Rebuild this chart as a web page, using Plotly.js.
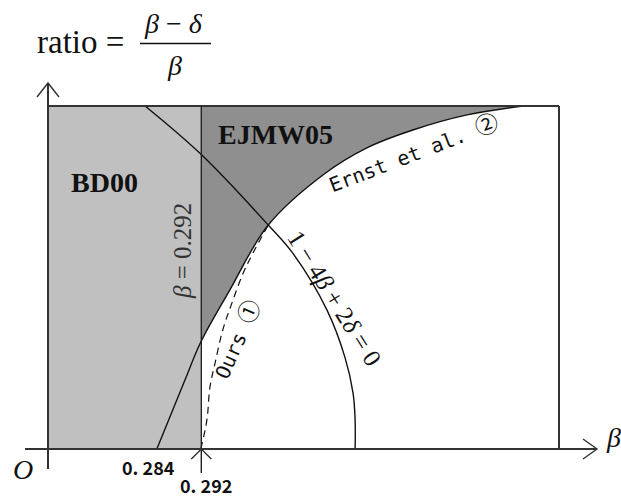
<!DOCTYPE html>
<html>
<head>
<meta charset="utf-8">
<script src="https://cdn.plot.ly/plotly-3.0.1.min.js"></script>
<style>
  html, body { margin: 0; padding: 0; background: #fff; }
  #root { width: 621px; height: 500px; }
</style>
</head>
<body>
<div id="root"></div>
<script>
// schematic units: beta runs 0..1 across the frame, ratio 0..1 up the frame
const bd00Edge = 0.30;              // beta = 0.292 line
const ernstBeta  = [0.213, 0.268, 0.299, 0.356, 0.431, 0.538, 0.624, 0.714, 0.820, 0.930];
const ernstRatio = [0.000, 0.201, 0.312, 0.464, 0.653, 0.799, 0.878, 0.930, 0.974, 1.000];
const oursBeta   = [0.299, 0.311, 0.317, 0.327, 0.342, 0.360, 0.382, 0.401, 0.431];
const oursRatio  = [0.000, 0.085, 0.181, 0.251, 0.347, 0.426, 0.513, 0.571, 0.653];
const arcBeta    = [0.190, 0.301, 0.431, 0.479, 0.546, 0.581, 0.597, 0.601, 0.601];
const arcRatio   = [1.000, 0.857, 0.653, 0.571, 0.405, 0.268, 0.163, 0.085, 0.000];
const tickLabels = ["0. 284", "0. 292"];

// page geometry (pixels) of the frame, used to set the axis ranges
const W = 621, H = 500;
const FX0 = 48, FX1 = 559, FY0 = 449, FY1 = 106;
function u(px) { return (px - FX0) / (FX1 - FX0); }
function v(py) { return (FY0 - py) / (FY0 - FY1); }

const serif = "Liberation Serif, DejaVu Serif, serif";
const mono = "DejaVu Sans Mono, monospace";
const gothic = "Noto Sans CJK JP, DejaVu Sans, sans-serif";
const ink = "#111";

// white area under the Ernst curve to the right of the BD00 edge,
// closed at the top right corner of the frame
var cutB = [], cutR = [];
for (let i = 0; i < ernstBeta.length; i++) {
    if (ernstBeta[i] >= bd00Edge - 0.002) {
        cutB.push(ernstBeta[i]);
        cutR.push(ernstRatio[i]);
    }
}
cutB.push(1);
cutR.push(1);

var traces = [
    {
        x: cutB, y: cutR, mode: "lines", fill: "tozeroy", fillcolor: "#ffffff",
        line: { width: 0, color: "#ffffff", shape: "spline" }, hoverinfo: "skip"
    },
    {
        x: ernstBeta, y: ernstRatio, mode: "lines",
        line: { color: ink, width: 1.4, shape: "spline" }, hoverinfo: "skip"
    },
    {
        x: oursBeta, y: oursRatio, mode: "lines",
        line: { color: ink, width: 1.2, shape: "spline", dash: "7px,5px" }, hoverinfo: "skip"
    },
    {
        x: arcBeta, y: arcRatio, mode: "lines",
        line: { color: ink, width: 1.4, shape: "spline" }, hoverinfo: "skip"
    }
];

// arrow heads, sizes in pixels
const ax = 14, ay = 10;
function sx(p) { return p / (FX1 - FX0); }
function sy(p) { return p / (FY0 - FY1); }
const xEnd = u(597), yEnd = v(83);

var shapes = [
    // BD00 region
    { type: "rect", layer: "below", x0: 0, x1: bd00Edge, y0: 0, y1: 1,
      fillcolor: "#c0c0c0", line: { width: 0 } },
    // EJMW05 region (lower part whitened by the fill trace)
    { type: "rect", layer: "below", x0: bd00Edge, x1: 1, y0: 0, y1: 1,
      fillcolor: "#8f8f8f", line: { width: 0 } },
    // frame top and right
    { type: "line", x0: 0, x1: 1, y0: 1, y1: 1, line: { color: "#333", width: 2 } },
    { type: "line", x0: 1, x1: 1, y0: 0, y1: 1, line: { color: "#333", width: 2 } },
    // beta = 0.292 line
    { type: "line", x0: bd00Edge, x1: bd00Edge, y0: v(473), y1: 1, line: { color: "#222", width: 1.4 } },
    { type: "path", path: "M" + (bd00Edge - sx(10)) + "," + (-sy(10)) + " L" + bd00Edge + ",0 L" + (bd00Edge + sx(10)) + "," + (-sy(10)),
      line: { color: "#222", width: 1.2 } },
    // axes
    { type: "line", x0: u(25), x1: xEnd, y0: 0, y1: 0, line: { color: "#333", width: 2 } },
    { type: "line", x0: 0, x1: 0, y0: v(469), y1: yEnd, line: { color: "#333", width: 2 } },
    { type: "path", path: "M" + (xEnd - sx(ax)) + "," + sy(ay) + " L" + xEnd + ",0 L" + (xEnd - sx(ax)) + "," + (-sy(ay)),
      line: { color: "#333", width: 1.4 } },
    { type: "path", path: "M" + (-sx(11)) + "," + (yEnd - sy(ax)) + " L0," + yEnd + " L" + sx(11) + "," + (yEnd - sy(ax)),
      line: { color: "#333", width: 1.4 } },
    // fraction bar of the title
    { type: "line", x0: u(140), x1: u(211), y0: v(43.5), y1: v(43.5), line: { color: ink, width: 1.3 } }
];

function note(text, px, py, size, family, angle, color) {
    return {
        text: text, x: u(px), y: v(py), xref: "x", yref: "y",
        showarrow: false, xanchor: "center", yanchor: "middle",
        textangle: angle || 0, borderpad: 0,
        font: { size: size, family: family, color: color || ink }
    };
}

const circ = "<span style='font-family:Noto Sans CJK JP;font-size:23px'>";

var annotations = [
    note("ratio =", 80, 42, 33, serif),
    note("<i>β</i> − <i>δ</i>", 173, 23, 28, serif),
    note("<i>β</i>", 174, 65, 28, serif),
    note("<b>BD00</b>", 104, 182, 28, serif),
    note("<b>EJMW05</b>", 275, 134, 28, serif),
    note("<i>β</i> = 0.292", 182, 251, 25, serif, -90, "#333"),
    note("Ernst et al. " + circ + "②</span>", 413, 151, 20, mono, -21),
    note("Ours " + circ + "①</span>", 235, 339, 20, mono, -66),
    note("1 − 4<i>β</i> + 2<i>δ</i> = 0", 335, 298, 25, serif, 58),
    note("<i>O</i>", 23, 469, 28, serif),
    note("<b>" + tickLabels[0] + "</b>", 148, 467, 18, gothic),
    note("<b>" + tickLabels[1] + "</b>", 206, 485, 18, gothic),
    note("<i>β</i>", 613, 437, 28, serif)
];

var layout = {
    width: W, height: H,
    margin: { l: 0, r: 0, t: 0, b: 0 },
    paper_bgcolor: "#fff", plot_bgcolor: "#fff",
    showlegend: false,
    xaxis: { range: [u(0), u(W)], visible: false, fixedrange: true },
    yaxis: { range: [v(H), v(0)], visible: false, fixedrange: true },
    shapes: shapes,
    annotations: annotations
};

Plotly.newPlot("root", traces, layout, { displayModeBar: false, staticPlot: true });
</script>
</body>
</html>
